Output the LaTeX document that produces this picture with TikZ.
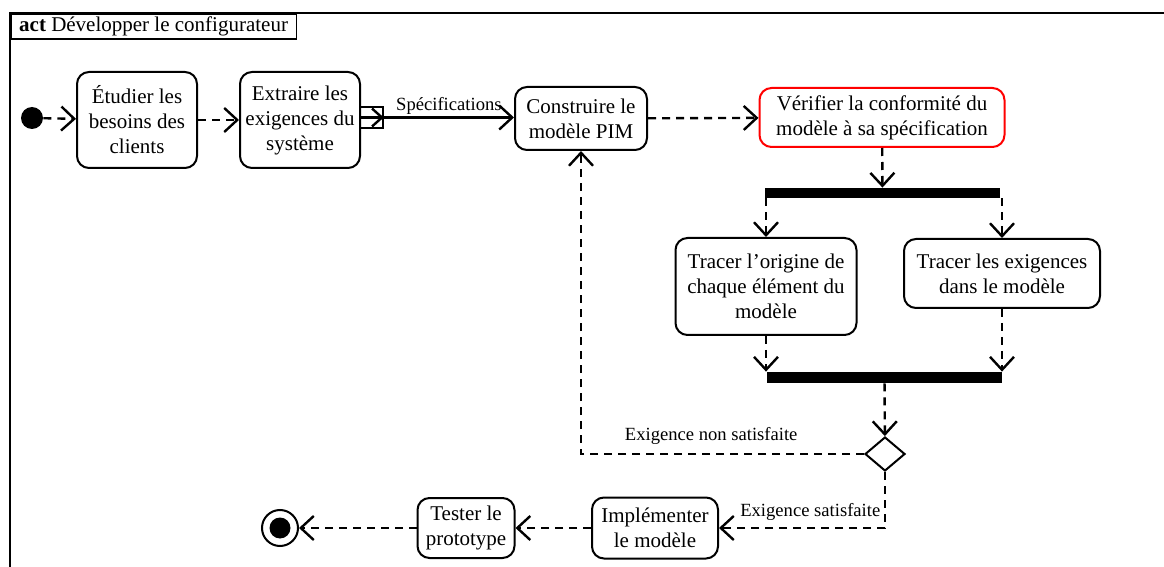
\documentclass[tikz,border=0pt]{standalone}
\usepackage{fontspec}
\setmainfont{Liberation Serif}
\usetikzlibrary{arrows.meta,positioning,shapes.geometric}

\begin{document}
\begin{tikzpicture}[x=0.5pt,y=-0.5pt]
  \tikzstyle{act}=[draw,rounded corners=6pt,line width=1pt,align=center,inner sep=0pt,font=\fontsize{10.5}{12.5}\selectfont]
  \tikzstyle{bar}=[fill=black,draw=none,inner sep=0pt]
  \tikzstyle{flow}=[line width=1.2pt,dash pattern=on 4pt off 3pt,-{Straight Barb[length=6.5pt,width=12pt,line width=1.2pt]}]
  \tikzstyle{lbl}=[font=\fontsize{9.3}{11}\selectfont,inner sep=1pt]
  \useasboundingbox (0,0) rectangle (1164,567);

  % frame
  \draw[line width=1pt] (1200,13) -- (10,13) -- (10,600);
  \node[draw,line width=0.8pt,anchor=north west,minimum height=12.5pt,inner xsep=4.2pt,inner ysep=0pt,font=\fontsize{10.5}{12}\selectfont] (title) at (10,13) {\textbf{act} Développer le configurateur};

  % start and end
  \node[circle,fill=black,minimum size=11pt,inner sep=0pt] (start) at (32,118) {};
  \node[circle,draw,line width=1pt,minimum size=18pt,inner sep=0pt] (stop) at (280,528) {};
  \node[circle,fill=black,minimum size=10.5pt,inner sep=0pt] (stopin) at (280,528) {};

  % actions
  \node[act,minimum width=60pt,minimum height=48pt] (etud) at (137,120) {Étudier les\\besoins des\\clients};
  \node[act,minimum width=60pt,minimum height=48pt] (extr) at (300,120) {Extraire les\\exigences du\\système};
  \node[draw,line width=0.8pt,minimum width=11.5pt,minimum height=10.5pt,inner sep=0pt] (pin) at (371.5,117.5) {};
  \node[act,minimum width=66pt,minimum height=31.5pt] (constr) at (581,118.5) {Construire le\\modèle PIM};
  \node[act,draw=red,minimum width=122.5pt,minimum height=29.5pt] (verif) at (882,117.5) {Vérifier la conformité du\\modèle à sa spécification};
  \node[bar,minimum width=117.5pt,minimum height=5pt] (fork) at (882.5,193) {};
  \node[act,minimum width=90.5pt,minimum height=48.5pt] (orig) at (766,286.5) {Tracer l’origine de\\chaque élément du\\modèle};
  \node[act,minimum width=98pt,minimum height=34.5pt] (exig) at (1002,273.5) {Tracer les exigences\\dans le modèle};
  \node[bar,minimum width=117.5pt,minimum height=5.5pt] (join) at (884.5,377.5) {};
  \node[diamond,draw,line width=1pt,minimum width=20pt,minimum height=17pt,inner sep=0pt,aspect=1.2] (dec) at (885,454) {};
  \node[act,minimum width=63pt,minimum height=30.5pt] (impl) at (655,528) {Implémenter\\le modèle};
  \node[act,minimum width=48.5pt,minimum height=30pt] (test) at (466,528) {Tester le\\prototype};

  % flows
  \draw[flow] (start) -- (etud);
  \draw[flow] (etud) -- (extr);
  \draw[-{Straight Barb[length=5pt,width=9pt,line width=1.2pt]},line width=1.2pt] (pin.west) -- (pin.east);
  \draw[-{Straight Barb[length=6.5pt,width=12pt,line width=1.2pt]},line width=1.2pt] (pin.east) -- node[lbl,above] {Spécifications} (pin.east -| constr.west);
  \draw[flow] (constr) -- (verif);
  \draw[flow] (verif) -- (fork);
  \draw[flow] (fork.south -| orig.north) -- (orig.north);
  \draw[flow] (fork.south -| exig.north) -- (exig.north);
  \draw[flow] (orig.south) -- (orig.south |- join.north);
  \draw[flow] (exig.south) -- (exig.south |- join.north);
  \draw[flow] (join) -- (dec);
  \draw[flow] (dec.west) -| node[lbl,pos=0.27,above=3pt] {Exigence non satisfaite} (constr.south);
  \draw[flow] (dec.south) |- node[lbl,pos=0.725,above=2pt] {Exigence satisfaite} (impl.east);
  \draw[flow] (impl) -- (test);
  \draw[flow] (test) -- (stop);
\end{tikzpicture}
\end{document}
